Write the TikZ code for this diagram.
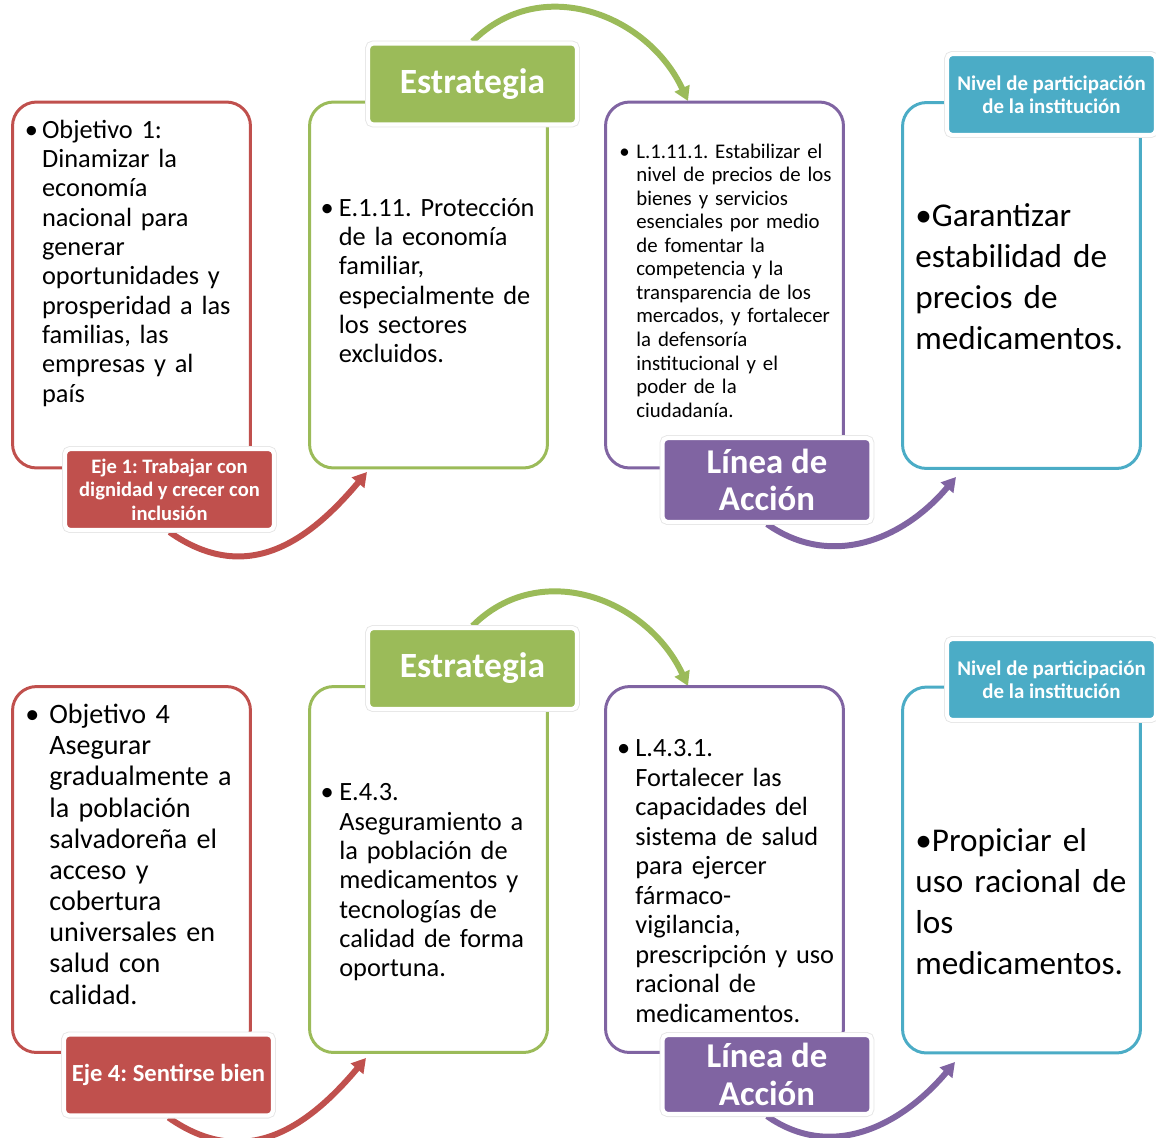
\documentclass[tikz,border=0pt]{standalone}
\usepackage{fontspec}
\setmainfont{Carlito}
\usetikzlibrary{arrows.meta,backgrounds}

\definecolor{ejered}{HTML}{C0504D}
\definecolor{estgreen}{HTML}{9BBB59}
\definecolor{linpurple}{HTML}{8064A2}
\definecolor{nivblue}{HTML}{4BACC6}

% hanging bullet and a first-line strut
\newcommand{\bul}[1]{\llap{\textbullet\hspace{#1}}}
\newcommand{\fst}{\rule{0pt}{1em}}
\frenchspacing

\begin{document}
\begin{tikzpicture}[x=0.02cm,y=0.02cm]
\tikzset{
% rounded boxes that hold the text
panel/.style={draw=#1,line width=1.7pt,rounded corners=0.48cm,minimum width=4.76cm,minimum height=7.32cm,inner sep=0pt},
% coloured titles sitting on the boxes
tag/.style={fill=#1,draw=white,line width=2.4pt,rounded corners=0.1cm,preaction={draw=black!10,line width=3.4pt},text=white,align=center,minimum width=4.18cm,minimum height=1.62cm,inner sep=0pt},
% text inside the boxes
body/.style={anchor=north west,inner sep=0pt,text width=4.6cm,align=left},
% curved arrows from one box to the next
flow/.style={draw=#1,line width=3.4pt,-{Triangle[width=9pt,length=8pt]}}
}
\useasboundingbox (0,0) rectangle (1156,-1137);

% First row
\node[panel=ejered] (obj1) at (131.5,-285) {};
\node[panel=estgreen] (est1) at (428.5,-285) {};
\node[panel=linpurple] (lin1) at (724.5,-285) {};
\node[panel=nivblue] (niv1) at (1021.5,-285.5) {};

\node[tag=ejered,font=\bfseries\fontsize{11.7}{13.4}\selectfont] (objtag1) at (169.5,-489.5) {Eje 1: Trabajar con\\dignidad y crecer con\\inclusión};
\node[tag=estgreen,font=\bfseries\fontsize{20.2}{21}\selectfont] (esttag1) at (472.5,-84) {Estrategia};
\node[tag=linpurple,minimum height=1.68cm,font=\bfseries\fontsize{19.8}{21.5}\selectfont] (lintag1) at (767,-480) {Línea de\\Acción};
\node[tag=nivblue,font=\bfseries\fontsize{11.9}{12.8}\selectfont] (nivtag1) at (1051.5,-94.5) {Nivel de participación\\de la institución};

\coordinate (redtip1) at (367,-472);
\coordinate (greentip1) at (688,-101);
\coordinate (purpletip1) at (956,-477);
\begin{scope}[on background layer]
\draw[flow=ejered] (objtag1.south) to[out=-35,in=-130,looseness=1.15] (redtip1);
\draw[flow=estgreen] (esttag1.north) to[out=45,in=115,looseness=1.1] (greentip1);
\draw[flow=linpurple] (lintag1.south) to[out=-35,in=-130,looseness=1.05] (purpletip1);
\end{scope}

\node[body,font=\fontsize{15}{16.7}\selectfont] (objtxt1) at (41.7,-111.5) {\bul{0.08cm}\fst Objetivo 1:\\Dinamizar la\\economía\\nacional para\\generar\\oportunidades y\\prosperidad a las\\familias, las\\empresas y al\\país};
\node[body,font=\fontsize{15}{16.7}\selectfont] (esttxt1) at (338.5,-189.5) {\bul{0.1cm}\fst E.1.11. Protección\\de la economía\\familiar,\\especialmente de\\los sectores\\excluidos.};
\node[body,font=\fontsize{11.85}{13.4}\selectfont] (lintxt1) at (636,-137) {\bul{0.13cm}\fst L.1.11.1. Estabilizar el\\nivel de precios de los\\bienes y servicios\\esenciales por medio\\de fomentar la\\competencia y la\\transparencia de los\\mercados, y fortalecer\\la defensoría\\institucional y el\\poder de la\\ciudadanía.};
\node[body,font=\fontsize{18.9}{23.3}\selectfont] (nivtxt1) at (915,-193) {\fst\textbullet Garantizar\\estabilidad de\\precios de\\medicamentos.};

% Second row
\node[panel=ejered] (obj2) at (131.5,-869.5) {};
\node[panel=estgreen] (est2) at (428.5,-869.5) {};
\node[panel=linpurple] (lin2) at (724.5,-869.5) {};
\node[panel=nivblue] (niv2) at (1021.5,-870) {};

\node[tag=ejered,font=\bfseries\fontsize{14}{16}\selectfont] (objtag2) at (168.5,-1075) {Eje 4: Sentirse bien};
\node[tag=estgreen,font=\bfseries\fontsize{20.2}{21}\selectfont] (esttag2) at (472.5,-668.5) {Estrategia};
\node[tag=linpurple,minimum height=1.58cm,font=\bfseries\fontsize{19.8}{21.5}\selectfont] (lintag2) at (767,-1074.5) {Línea de\\Acción};
\node[tag=nivblue,font=\bfseries\fontsize{11.9}{12.8}\selectfont] (nivtag2) at (1051.5,-679.5) {Nivel de participación\\de la institución};

\coordinate (redtip2) at (366,-1058);
\coordinate (greentip2) at (688,-686);
\coordinate (purpletip2) at (955,-1062);
\begin{scope}[on background layer]
\draw[flow=ejered] (objtag2.south) to[out=-35,in=-130,looseness=1.15] (redtip2);
\draw[flow=estgreen] (esttag2.north) to[out=45,in=115,looseness=1.1] (greentip2);
\draw[flow=linpurple] (lintag2.south) to[out=-35,in=-130,looseness=1.05] (purpletip2);
\end{scope}

\node[body,font=\fontsize{16}{17.75}\selectfont] (objtxt2) at (49,-695) {\bul{0.2cm}\fst Objetivo 4\\Asegurar\\gradualmente a\\la población\\salvadoreña el\\acceso y\\cobertura\\universales en\\salud con\\calidad.};
\node[body,font=\fontsize{15}{16.7}\selectfont] (esttxt2) at (339,-774) {\bul{0.11cm}\fst E.4.3.\\Aseguramiento a\\la población de\\medicamentos y\\tecnologías de\\calidad de forma\\oportuna.};
\node[body,font=\fontsize{15}{16.8}\selectfont] (lintxt2) at (635,-730) {\bul{0.1cm}\fst L.4.3.1.\\Fortalecer las\\capacidades del\\sistema de salud\\para ejercer\\fármaco-\\vigilancia,\\prescripción y uso\\racional de\\medicamentos.};
\node[body,font=\fontsize{18.9}{23.4}\selectfont] (nivtxt2) at (915,-818) {\fst\textbullet Propiciar el\\uso racional de\\los\\medicamentos.};
\end{tikzpicture}
\end{document}
